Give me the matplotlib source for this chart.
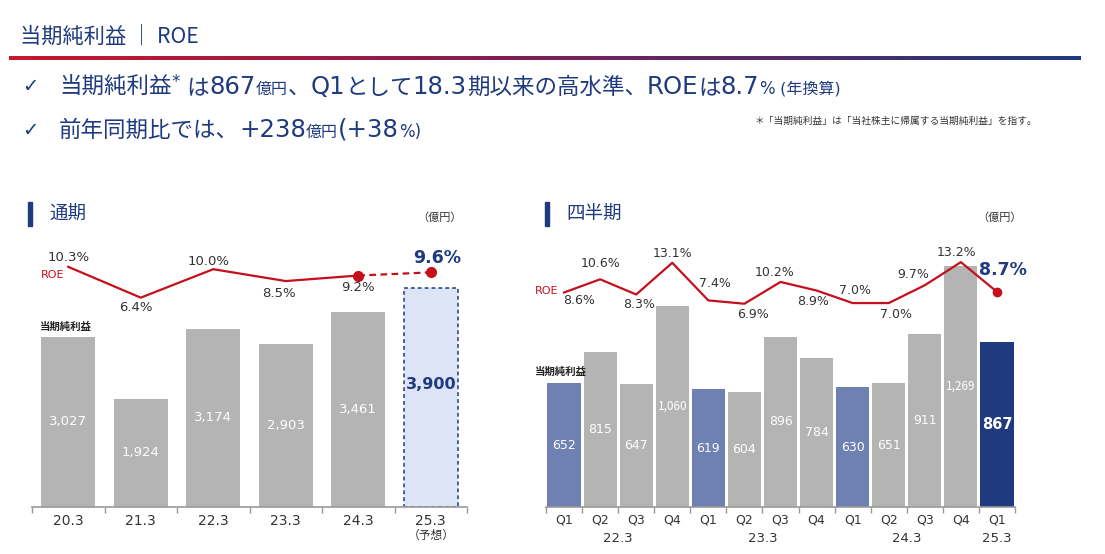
import matplotlib.pyplot as plt
import matplotlib.patches as mpatches
from matplotlib.colors import LinearSegmentedColormap
import numpy as np

# 数字は幅の広い DejaVu Sans、日本語は Noto Sans CJK JP で描く
plt.rcParams['font.family'] = ['DejaVu Sans', 'Noto Sans CJK JP']
JP = ['Noto Sans CJK JP', 'DejaVu Sans']

# 通期データ
fy_labels = ["20.3", "21.3", "22.3", "23.3", "24.3", "25.3"]
fy_profit = [3027, 1924, 3174, 2903, 3461, 3900]
fy_roe = [10.3, 6.4, 10.0, 8.5, 9.2, 9.6]

# 四半期データ
q_labels = ["Q1", "Q2", "Q3", "Q4", "Q1", "Q2", "Q3", "Q4", "Q1", "Q2", "Q3", "Q4", "Q1"]
q_years = ["22.3", "23.3", "24.3", "25.3"]
q_profit = [652, 815, 647, 1060, 619, 604, 896, 784, 630, 651, 911, 1269, 867]
q_roe = [8.6, 10.6, 8.3, 13.1, 7.4, 6.9, 10.2, 8.9, 7.0, 7.0, 9.7, 13.2, 8.7]

W, H = 1105, 554
NAVY = "#1f3a7f"
RED = "#c4101c"
GREY = "#b4b4b4"
Q1BLUE = "#6f80b3"
DARK = "#333333"

fig = plt.figure(figsize=(W / 100, H / 100), dpi=100)
renderer = fig.canvas.get_renderer()


def px_axes(x0, y0, w, h):
    # 画像のピクセル座標(左上原点)から axes を作る
    return fig.add_axes([x0 / W, 1 - (y0 + h) / H, w / W, h / H])


def run_text(x, y, parts, color=NAVY):
    # 文字サイズの違う文字列を横につなげて描く (dy で上付き)
    for s, size, dy in parts:
        t = fig.text(x / W, 1 - (y - dy) / H, s, fontsize=size, color=color,
                     va="baseline", ha="left")
        x += t.get_window_extent(renderer).width
    return x


# ---- ヘッダー ----
fig.text(20 / W, 1 - 37 / H, "当期純利益 ｜ ROE", fontsize=15.3, color=NAVY, va="center",
         ha="left", family=JP)

grad_ax = px_axes(9, 56, 1072, 4)
grad = np.linspace(0, 1, 256).reshape(1, -1)
cmap = LinearSegmentedColormap.from_list("hdr", ["#c8172e", "#7a1f55", "#1f3a80"])
grad_ax.imshow(grad, aspect="auto", cmap=cmap)
grad_ax.axis("off")

fig.text(22 / W, 1 - 87 / H, "✓", fontsize=14, color=NAVY, va="center", ha="left")
fig.text(22 / W, 1 - 130 / H, "✓", fontsize=14, color=NAVY, va="center", ha="left")

J, L, S = 16.2, 17.6, 11.5
run_text(59, 94, [("当期純利益", J, 0), ("*", 12, 7), (" は", J, 0), ("867", L, 0),
                  ("億円", S, 0), ("、", J, 0), ("Q1", L, 0), ("として", J, 0),
                  ("18.3", L, 0), ("期以来の高水準、", J, 0), ("ROE", L, 0), ("は", J, 0),
                  ("8.7", L, 0), ("%", 12, 0), (" (年換算)", S, 0)])
run_text(59, 137, [("前年同期比では、", J, 0), ("+238", L, 0), ("億円", S, 0),
                   ("(+38", L, 0), ("%)", 12, 0)])

fig.text(755 / W, 1 - 121 / H, "＊「当期純利益」は「当社株主に帰属する当期純利益」を指す。",
         fontsize=7, color=DARK, va="center", ha="left", family=JP)

# ---- セクションタイトル ----
for bx, title, unit_x in [(28, "通期", 440), (545, "四半期", 1000)]:
    fig.patches.append(mpatches.Rectangle((bx / W, 1 - 226 / H), 4 / W, 24 / H,
                                          transform=fig.transFigure, color=NAVY))
    fig.text((bx + 21) / W, 1 - 214 / H, title, fontsize=13.3, color=NAVY, va="center",
             ha="left", family=JP)
    fig.text(unit_x / W, 1 - 218 / H, "（億円）", fontsize=8, color=DARK, va="center",
             ha="center", family=JP)


def style_axis(ax, n, labels, size):
    ax.set_xlim(-0.5, n - 0.5)
    for s in ["top", "right", "left"]:
        ax.spines[s].set_visible(False)
    ax.spines["bottom"].set_color("#999999")
    ax.spines["bottom"].set_linewidth(1.2)
    ax.set_yticks([])
    ax.set_xticks(range(n))
    ax.set_xticklabels(labels, fontsize=size, color=DARK)
    ax.tick_params(axis="x", which="major", length=0, pad=5)
    ax.set_xticks(np.arange(-0.5, n, 1.0), minor=True)
    ax.tick_params(axis="x", which="minor", length=4, color="#999999", width=1)
    ax.patch.set_alpha(0)


# ---- 通期チャート ----
axL = px_axes(32, 230, 435, 277)
n = len(fy_labels)
xs = np.arange(n)
axL.bar(xs[:-1], fy_profit[:-1], width=0.745, color=GREY)
axL.bar(xs[-1], fy_profit[-1], width=0.745, color="#dde4f5", edgecolor=NAVY,
        linestyle=(0, (2.5, 2)), linewidth=1.1)
axL.set_ylim(0, 277 / 0.0562)
style_axis(axL, n, fy_labels, 10)
for i, v in enumerate(fy_profit):
    if i == n - 1:
        axL.text(i, v * 0.56, f"{v:,}", ha="center", va="center", fontsize=11.5,
                 color=NAVY, fontweight="bold")
    else:
        axL.text(i, v / 2, f"{v:,}", ha="center", va="center", fontsize=9.5, color="white")
axL.annotate("（予想）", xy=(n - 1, 0), xycoords="data", xytext=(0, -28),
             textcoords="offset pixels", ha="center", va="center", fontsize=8.5, color=DARK,
             family=JP)
axL.annotate("当期純利益", xy=(-0.5, fy_profit[0]), xytext=(8, 10),
             textcoords="offset pixels", ha="left", va="center", fontsize=7.5,
             color="#222222", fontweight="bold", family=JP)

axL2 = axL.twinx()
axL2.set_ylim(-20.1, -20.1 + 277 / 7.9)
axL2.axis("off")
axL2.plot(xs[:-1], fy_roe[:-1], color=RED, lw=1.6)
axL2.plot(xs[-2:], fy_roe[-2:], color=RED, lw=1.6, linestyle=(0, (3, 2)),
          marker="o", markersize=7)
off_L = [(0, 9), (-5, -10), (-5, 8), (-7, -12), (0, -12), (6, 14)]
for i, v in enumerate(fy_roe):
    if i == n - 1:
        axL2.annotate(f"{v}%", xy=(i, v), xytext=off_L[i], textcoords="offset pixels",
                      ha="center", va="center", fontsize=12.5, color=NAVY, fontweight="bold")
    else:
        axL2.annotate(f"{v:.1f}%", xy=(i, v), xytext=off_L[i], textcoords="offset pixels",
                      ha="center", va="center", fontsize=9.5, color=DARK)
fig.text(41 / W, 1 - 275 / H, "ROE", fontsize=8, color=RED, va="center", ha="left")

# ---- 四半期チャート ----
axR = px_axes(546, 230, 469, 277)
m = len(q_labels)
xq = np.arange(m)
qcolors = []
for i in range(m):
    if i == m - 1:
        qcolors.append(NAVY)
    elif i % 4 == 0:
        qcolors.append(Q1BLUE)
    else:
        qcolors.append(GREY)
axR.bar(xq, q_profit, width=0.92, color=qcolors)
axR.set_ylim(0, 277 / 0.190)
style_axis(axR, m, q_labels, 9)
for i, v in enumerate(q_profit):
    if i == m - 1:
        axR.text(i, v / 2, f"{v:,}", ha="center", va="center", fontsize=10.5,
                 color="white", fontweight="bold")
    elif v >= 1000:
        axR.text(i, v / 2, f"{v:,}", ha="center", va="center", fontsize=8.5, color="white",
                 family=JP)
    else:
        axR.text(i, v / 2, f"{v:,}", ha="center", va="center", fontsize=9, color="white")
year_pos = [1.5, 5.5, 9.5, 12]
for yp, yl in zip(year_pos, q_years):
    axR.annotate(yl, xy=(yp, 0), xycoords=("data", "axes fraction"), xytext=(0, -31),
                 textcoords="offset pixels", ha="center", va="center", fontsize=9.5, color=DARK)
axR.annotate("当期純利益", xy=(-0.5, q_profit[0]), xytext=(-11, 11),
             textcoords="offset pixels", ha="left", va="center", fontsize=7.5,
             color="#222222", fontweight="bold", family=JP)

axR2 = axR.twinx()
axR2.set_ylim(-23.9, -23.9 + 277 / 6.6)
axR2.axis("off")
axR2.plot(xq, q_roe, color=RED, lw=1.6)
axR2.plot(xq[-1], q_roe[-1], "o", color=RED, markersize=6)
off_R = [(15, -8), (0, 16), (3, -10), (0, 9), (7, 17), (9, -11), (-6, 9),
         (-4, -11), (2, 13), (7, -11), (-12, 11), (-4, 10), (6, 22)]
for i, v in enumerate(q_roe):
    if i == m - 1:
        axR2.annotate(f"{v}%", xy=(i, v), xytext=off_R[i], textcoords="offset pixels",
                      ha="center", va="center", fontsize=12.5, color=NAVY, fontweight="bold")
    else:
        axR2.annotate(f"{v:.1f}%", xy=(i, v), xytext=off_R[i], textcoords="offset pixels",
                      ha="center", va="center", fontsize=9, color=DARK)
fig.text(535 / W, 1 - 291 / H, "ROE", fontsize=8, color=RED, va="center", ha="left")

fig.savefig("out.png", dpi=100)
